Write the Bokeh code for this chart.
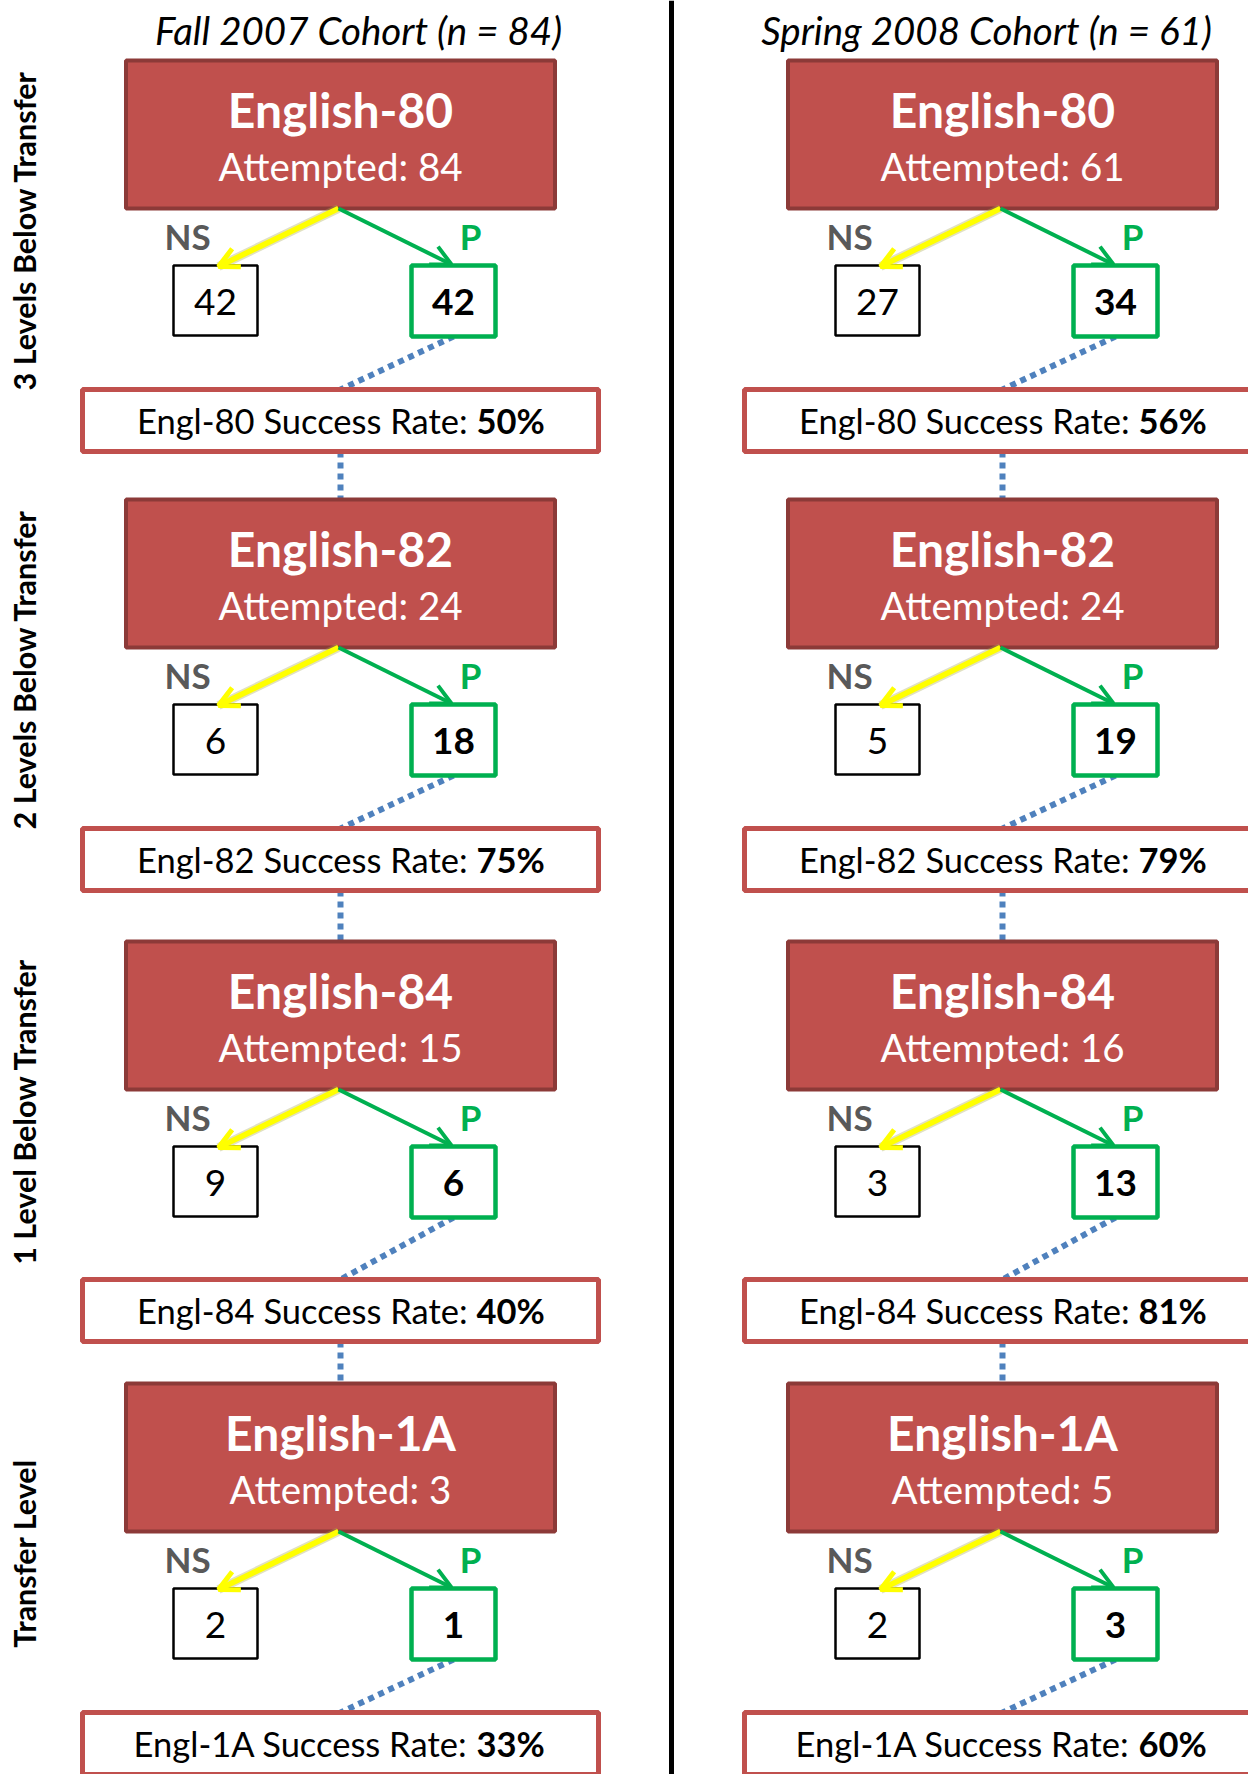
from bokeh.plotting import figure
from bokeh.models import Range1d, ColumnDataSource, Arrow, OpenHead
from bokeh.core.properties import value
from bokeh.embed import file_html
from bokeh.resources import INLINE
import math

# ---------------- data ----------------
cohorts = ["Fall 2007 Cohort (n = 84)", "Spring 2008 Cohort (n = 61)"]
courses = ["English-80", "English-82", "English-84", "English-1A"]
short_names = ["Engl-80", "Engl-82", "Engl-84", "Engl-1A"]
levels = ["3 Levels Below Transfer", "2 Levels Below Transfer",
          "1 Level Below Transfer", "Transfer Level"]

fall_attempted = [84, 24, 15, 3]
fall_ns = [42, 6, 9, 2]
fall_p = [42, 18, 6, 1]
fall_rate = [50, 75, 40, 33]

spring_attempted = [61, 24, 16, 5]
spring_ns = [27, 5, 3, 2]
spring_p = [34, 19, 13, 3]
spring_rate = [56, 79, 81, 60]

# ---------------- layout ----------------
FONT = "Lato"
RED = "#C0504D"
DARKRED = "#8C3A38"
GREEN = "#00B050"
YELLOW = "#FFFF00"
BLUE = "#4F81BD"
GRAY = "#595959"

col_centers = [340, 1002]
title_centers = [358, 986]
main_tops = [60, 499, 941, 1383]
rate_tops = [389, 828, 1279, 1712]
MAIN_W, MAIN_H = 429, 148
BOX_W, BOX_H = 84, 70
RATE_W, RATE_H = 516, 62

W, H = 1248, 1774
p = figure(width=W, height=H, x_range=Range1d(0, W), y_range=Range1d(H, 0),
           output_backend="svg", toolbar_location=None, min_border=0,
           x_axis_type=None, y_axis_type=None)
p.grid.visible = False
p.outline_line_color = None
p.background_fill_color = "white"
p.border_fill_color = "white"

# divider
p.segment(x0=[671], y0=[0], x1=[671], y1=[1780], line_color="black", line_width=5)

# titles
p.text(x=title_centers, y=[29, 29], text=cohorts, text_font=value(FONT),
       text_font_style="italic", text_font_size="38.5px", text_color="black",
       text_align="center", text_baseline="middle")

# row labels
p.text(x=[23] * 4, y=[t + 170 for t in main_tops], text=levels, angle=math.pi / 2,
       text_font=value(FONT), text_font_style="bold", text_font_size="30.5px",
       text_color="black", text_align="center", text_baseline="middle")

cols = [(fall_attempted, fall_ns, fall_p, fall_rate),
        (spring_attempted, spring_ns, spring_p, spring_rate)]

for ci, (att, ns, ps, rate) in enumerate(cols):
    cx = col_centers[ci]
    n = len(courses)
    tops = main_tops[:n]
    rts = rate_tops[:n]

    # dotted connectors (under boxes)
    p.segment(x0=[cx + 113] * n, y0=[t + 276 for t in tops], x1=[cx] * n, y1=rts,
              line_color=BLUE, line_width=6, line_dash="6 5")
    p.segment(x0=[cx] * (n - 1), y0=[r + RATE_H for r in rts[:-1]], x1=[cx] * (n - 1),
              y1=tops[1:], line_color=BLUE, line_width=6, line_dash="6 5")

    # main boxes
    p.quad(left=[cx - MAIN_W / 2] * n, right=[cx + MAIN_W / 2] * n, top=tops,
           bottom=[t + MAIN_H for t in tops], fill_color=RED, line_color=DARKRED, line_width=4)
    p.text(x=[cx] * n, y=[t + 49 for t in tops], text=courses, text_font=value(FONT),
           text_font_style="bold", text_font_size="48px", text_color="white",
           text_align="center", text_baseline="middle")
    p.text(x=[cx] * n, y=[t + 105 for t in tops], text=[f"Attempted: {a}" for a in att],
           text_font=value(FONT), text_font_size="38.5px", text_color="white",
           text_align="center", text_baseline="middle")

    # NS / P boxes
    p.quad(left=[cx - 125 - BOX_W / 2] * n, right=[cx - 125 + BOX_W / 2] * n,
           top=[t + 205 for t in tops], bottom=[t + 205 + BOX_H for t in tops],
           fill_color="white", line_color="black", line_width=2.5)
    p.quad(left=[cx + 113 - BOX_W / 2] * n, right=[cx + 113 + BOX_W / 2] * n,
           top=[t + 205 for t in tops], bottom=[t + 206 + BOX_H for t in tops],
           fill_color="white", line_color=GREEN, line_width=4.5)
    p.text(x=[cx - 125] * n, y=[t + 241 for t in tops], text=[str(v) for v in ns],
           text_font=value(FONT), text_font_size="37px", text_color="black",
           text_align="center", text_baseline="middle")
    p.text(x=[cx + 113] * n, y=[t + 241 for t in tops], text=[str(v) for v in ps],
           text_font=value(FONT), text_font_style="bold", text_font_size="37px",
           text_color="black", text_align="center", text_baseline="middle")
    p.text(x=[cx - 153] * n, y=[t + 175 for t in tops], text=["NS"] * n,
           text_font=value(FONT), text_font_style="bold", text_font_size="35px",
           text_color=GRAY, text_align="center", text_baseline="middle")
    p.text(x=[cx + 130] * n, y=[t + 175 for t in tops], text=["P"] * n,
           text_font=value(FONT), text_font_style="bold", text_font_size="35px",
           text_color=GREEN, text_align="center", text_baseline="middle")

    # arrows
    ysrc = ColumnDataSource(dict(x0=[cx - 2] * n, y0=[t + MAIN_H for t in tops],
                                 x1=[cx - 122] * n, y1=[t + 206 for t in tops]))
    gsrc = ColumnDataSource(dict(x0=[cx - 2] * n, y0=[t + MAIN_H for t in tops],
                                 x1=[cx + 111] * n, y1=[t + 204 for t in tops]))
    p.segment(x0="x0", y0="y0", x1="x1", y1="y1", source=ysrc, line_color="#A8A850",
              line_width=9, line_alpha=0.35)
    p.add_layout(Arrow(end=OpenHead(size=20, line_color=YELLOW, line_width=5),
                       x_start="x0", y_start="y0", x_end="x1", y_end="y1", source=ysrc,
                       line_color=YELLOW, line_width=5.5))
    p.add_layout(Arrow(end=OpenHead(size=20, line_color=GREEN, line_width=4),
                       x_start="x0", y_start="y0", x_end="x1", y_end="y1", source=gsrc,
                       line_color=GREEN, line_width=4))

    # rate boxes
    p.quad(left=[cx - RATE_W / 2] * n, right=[cx + RATE_W / 2] * n, top=rts,
           bottom=[r + RATE_H for r in rts], fill_color="white", line_color=RED, line_width=5)
    p.text(x=[cx + 136] * n, y=[r + 31 for r in rts],
           text=[f"{s} Success Rate: " for s in short_names],
           text_font=value(FONT), text_font_size="34.5px", text_color="black",
           text_align="right", text_baseline="middle")
    p.text(x=[cx + 136] * n, y=[r + 31 for r in rts], text=[f"{v}%" for v in rate],
           text_font=value(FONT), text_font_style="bold", text_font_size="34.5px",
           text_color="black", text_align="left", text_baseline="middle")

open("out.html", "w").write(file_html(p, INLINE))
